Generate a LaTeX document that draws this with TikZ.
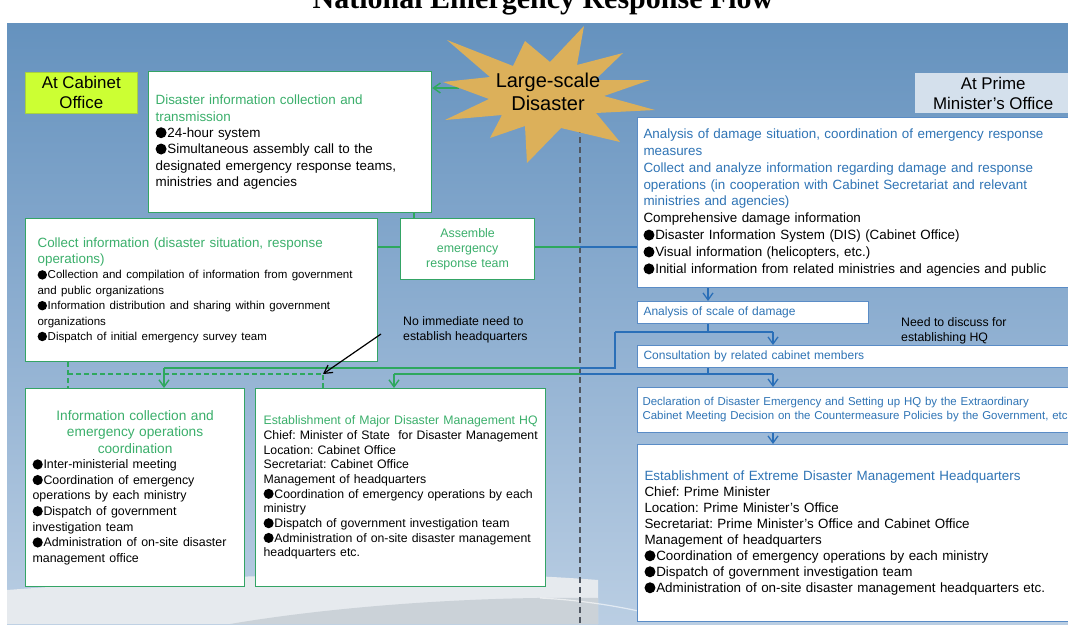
\documentclass[tikz,border=0pt]{standalone}
\usepackage{fontspec}
\setmainfont{Liberation Sans}
\newfontfamily\titlefont{Liberation Serif}
\usetikzlibrary{arrows.meta,calc}
\definecolor{gtext}{HTML}{3BAF6B}
\definecolor{gborder}{HTML}{34A465}
\definecolor{gconnc}{HTML}{2EA85E}
\definecolor{btext}{HTML}{2F74B5}
\definecolor{bborder}{HTML}{5A8CC6}
\definecolor{bconnc}{HTML}{2A6FB8}
\definecolor{limec}{HTML}{CCFF33}
\definecolor{limeb}{HTML}{A8D040}
\definecolor{pmc}{HTML}{D4E0EC}
\definecolor{panelT}{HTML}{6592BE}
\definecolor{panelM}{HTML}{8EAFD1}
\definecolor{panelB}{HTML}{BACEE3}
\definecolor{starc}{HTML}{DCB05A}
\definecolor{swW}{HTML}{E6EAEE}
\definecolor{swG}{HTML}{CBD2D8}
\definecolor{dashc}{HTML}{505660}
\newcommand\fs[2]{\fontsize{#1}{#2}\selectfont}
\newcommand\blt{\raisebox{-0.06em}{\tikz\fill[black] (0pt,0pt) circle (0.41em);}\hspace{0.06em}}
\frenchspacing
\begin{document}
\frenchspacing
\begin{tikzpicture}[x=1pt,y=-1pt,
  gbox/.style={draw=gborder, fill=white, line width=1.2pt, anchor=north west, align=left, inner ysep=0pt, text=black, font=\frenchspacing\fs{13.4}{16.3}},
  bboxs/.style={draw=bborder, fill=white, line width=1pt, anchor=north west, align=left, inner ysep=0pt, text=black, font=\frenchspacing\fs{13.4}{16.9}},
  lab/.style={anchor=north west, align=center, inner sep=0pt, font=\fs{16.9}{20}},
  note/.style={anchor=north west, align=left, inner sep=0pt, font=\fs{12.3}{15}},
  gconn/.style={draw=gconnc, line width=1.4pt},
  bconn/.style={draw=bconnc, line width=1.3pt},
  garr/.style={gconn, -{Straight Barb[length=7pt,width=10pt]}},
  barr/.style={bconn, -{Straight Barb[length=7pt,width=10pt]}},
  gdash/.style={draw=gconnc, line width=1.3pt, dash pattern=on 5pt off 3pt},
  dashline/.style={draw=dashc, line width=1.2pt, dash pattern=on 6pt off 4pt},
  karr/.style={draw=black, line width=1.2pt, -{Straight Barb[length=8pt,width=9pt]}}
]
\useasboundingbox (0,0) rectangle (1068,624);
\fill[white] (0,0) rectangle (1068,624);
% title
\node[anchor=base, inner sep=0pt, font=\titlefont\bfseries\fs{30}{30}] (title) at (543,8) {National Emergency Response Flow};
% panel
\shade[top color=panelT, bottom color=panelB, middle color=panelM] (7,23) rectangle (1068,624);
\fill[swW] (7,624) -- (7,590) .. controls (180,577) and (420,566) .. (598,580) -- (598,624) -- cycle;
\fill[swG] (230,624) .. controls (330,607) and (470,596) .. (598,598) -- (598,624) -- cycle;
\draw[white, opacity=0.6, line width=1.2pt] (540,598) .. controls (580,600) and (620,606) .. (660,616);

% coordinates
\coordinate (dtop) at (580,127);
\coordinate (dbot) at (580,624);
\coordinate (sL) at (459,88);
\coordinate (xa) at (414,0);
\coordinate (jE) at (580,247);
\coordinate (c1) at (708,0);
\coordinate (c2) at (773,0);
\coordinate (c3) at (164,0);
\coordinate (c4) at (394,0);
\coordinate (h1) at (615,332);
\coordinate (h2) at (615,368);
\coordinate (j2) at (580,368);
\coordinate (j3) at (580,374);
\coordinate (d1) at (68,374);
\coordinate (d2) at (323,374);
\coordinate (nS) at (381,334);

% dashed divider
\draw[dashline] (dtop) -- (dbot);

% labels
\node[lab, fill=limec, draw=limeb, line width=0.6pt, minimum width=112pt, minimum height=41pt] (cab) at (25,72) {At Cabinet\\Office};
\node[lab, fill=pmc, minimum width=156pt, minimum height=40pt] (pm) at (915,73) {At Prime\\Minister’s Office};

% boxes left
\node[gbox, text width=269pt, inner xsep=7pt, minimum height=141pt] (boxA) at (148,71)
 {{\color{gtext}Disaster information collection and\\transmission}\\
  \blt 24-hour system\\
  \blt Simultaneous assembly call to the\\
  designated emergency response teams,\\
  ministries and agencies};

\node[gbox, text width=328pt, inner xsep=12pt, minimum height=143pt] (boxC) at (25,218)
 {{\fs{13.4}{16.5}\color{gtext}Collect information (disaster situation, response\\operations)\par}
  {\fs{11.5}{15.4}\blt Collection and compilation of information from government\\
  and public organizations\\
  \blt Information distribution and sharing within government\\
  organizations\\
  \blt Dispatch of initial emergency survey team\par}};

\node[gbox, align=center, text width=120pt, inner xsep=7pt, minimum height=61pt, text=gtext, font=\fs{12.4}{15}] (boxE) at (400,218)
 {Assemble\\emergency\\response team};

\node[gbox, text width=205pt, inner xsep=7pt, minimum height=198pt] (boxI) at (25,388)
 {{\centering\fs{13.7}{16.5}\color{gtext}Information collection and\\emergency operations\\coordination\par}
  {\fs{12.4}{15.6}\mbox{\blt Inter-ministerial meeting}\\
  \mbox{\blt Coordination of emergency}\\
  \mbox{operations by each ministry}\\
  \mbox{\blt Dispatch of government}\\
  \mbox{investigation team}\\
  \mbox{\blt Administration of on-site disaster}\\
  \mbox{management office}\par}};

\node[gbox, text width=274pt, inner xsep=8pt, minimum height=198pt, font=\frenchspacing\fs{12.3}{14.7}] (boxM) at (255,388)
 {\mbox{\textcolor{gtext}{Establishment of Major Disaster Management HQ}}\\
  \mbox{Chief: Minister of State \ for Disaster Management}\\
  Location: Cabinet Office\\
  Secretariat: Cabinet Office\\
  Management of headquarters\\
  \mbox{\blt Coordination of emergency operations by each}\\
  ministry\\
  \mbox{\blt Dispatch of government investigation team}\\
  \mbox{\blt Administration of on-site disaster management}\\
  headquarters etc.};

% boxes right
\node[bboxs, text width=458pt, inner xsep=6pt, minimum height=170pt] (boxR) at (637,117)
 {{\color{btext}Analysis of damage situation, coordination of emergency response\\
  measures\\
  Collect and analyze information regarding damage and response\\
  operations (in cooperation with Cabinet Secretariat and relevant\\
  ministries and agencies)}\\
  Comprehensive damage information\\
  \blt Disaster Information System (DIS) (Cabinet Office)\\
  \blt Visual information (helicopters, etc.)\\
  \blt Initial information from related ministries and agencies and public};

\node[bboxs, text width=219pt, inner xsep=6pt, minimum height=22pt, text=btext, font=\fs{12}{14}] (boxS) at (637,301)
 {Analysis of scale of damage};

\node[bboxs, text width=458pt, inner xsep=6pt, minimum height=22pt, text=btext, font=\fs{12}{14}] (boxK) at (637,345)
 {Consultation by related cabinet members};

\node[bboxs, text width=458pt, inner xsep=5pt, minimum height=45pt, text=btext, font=\frenchspacing\fs{11.45}{14}] (boxD) at (637,387)
 {Declaration of Disaster Emergency and Setting up HQ by the Extraordinary\\
  Cabinet Meeting Decision on the Countermeasure Policies by the Government, etc};

\node[bboxs, text width=458pt, inner xsep=7pt, minimum height=177pt, font=\frenchspacing\fs{13.4}{16}] (boxX) at (637,444)
 {\textcolor{btext}{Establishment of Extreme Disaster Management Headquarters}\\
  Chief: Prime Minister\\
  Location: Prime Minister’s Office\\
  Secretariat: Prime Minister’s Office and Cabinet Office\\
  Management of headquarters\\
  \blt Coordination of emergency operations by each ministry\\
  \blt Dispatch of government investigation team\\
  \blt Administration of on-site disaster management headquarters etc.};

% notes
\node[note] (noneed) at (403,316) {No immediate need to\\establish headquarters};
\node[note] (discuss) at (901,317) {Need to discuss for\\establishing HQ};

% star -> box A arrow
\draw[garr] (sL) -- (sL -| boxA.east);
% star
\fill[starc] (443,82) -- (490,77) -- (447,40) -- (513,66) -- (525,41) -- (550,62) -- (584,26) -- (577,65) -- (623,53) -- (595,80) -- (650,80) -- (604,96) -- (655,110) -- (596,113) -- (620,142) -- (561,128) -- (527,163) -- (525,126) -- (490,138) -- (502,115) -- (445,120) -- (489,99) -- cycle;
\node[align=center, inner sep=0pt, font=\fs{20}{23}] (star) at (548,92) {Large-scale\\Disaster};

% green connectors top
\draw[gconn] (boxA.south -| xa) -- (boxE.north -| xa);
\draw[gconn] (boxC.east |- jE) -- (boxE.west |- jE);
\draw[gconn] (boxE.east |- jE) -- (jE);
\draw[bconn] (jE) -- (boxR.west |- jE);

% right flow
\draw[barr] (boxR.south -| c1) -- (boxS.north -| c1);
\draw[bconn] (boxS.south -| c1) -- (c1 |- h1);
\draw[bconn] (h1) -- (c2 |- h1);
\draw[barr] (c2 |- h1) -- (boxK.north -| c2);
\draw[bconn] (h1) -- (h2) -- (j2);
\draw[gconn] (j2) -- (c3 |- j2);
\draw[garr] (c3 |- j2) -- (boxI.north -| c3);
\draw[bconn] (boxK.south -| c1) -- (c1 |- j3);
\draw[bconn] (j3) -- (c2 |- j3);
\draw[barr] (c2 |- j3) -- (boxD.north -| c2);
\draw[gconn] (j3) -- (c4 |- j3);
\draw[garr] (c4 |- j3) -- (boxM.north -| c4);
\draw[barr] (boxD.south -| c2) -- (boxX.north -| c2);

% dashed green
\draw[gdash] (boxC.south -| d1) -- (boxI.north -| d1);
\draw[gdash] (d1) -- (d2) -- (boxM.north -| d2);

% note arrow
\draw[karr] (nS) -- (d2);
\end{tikzpicture}
\end{document}
